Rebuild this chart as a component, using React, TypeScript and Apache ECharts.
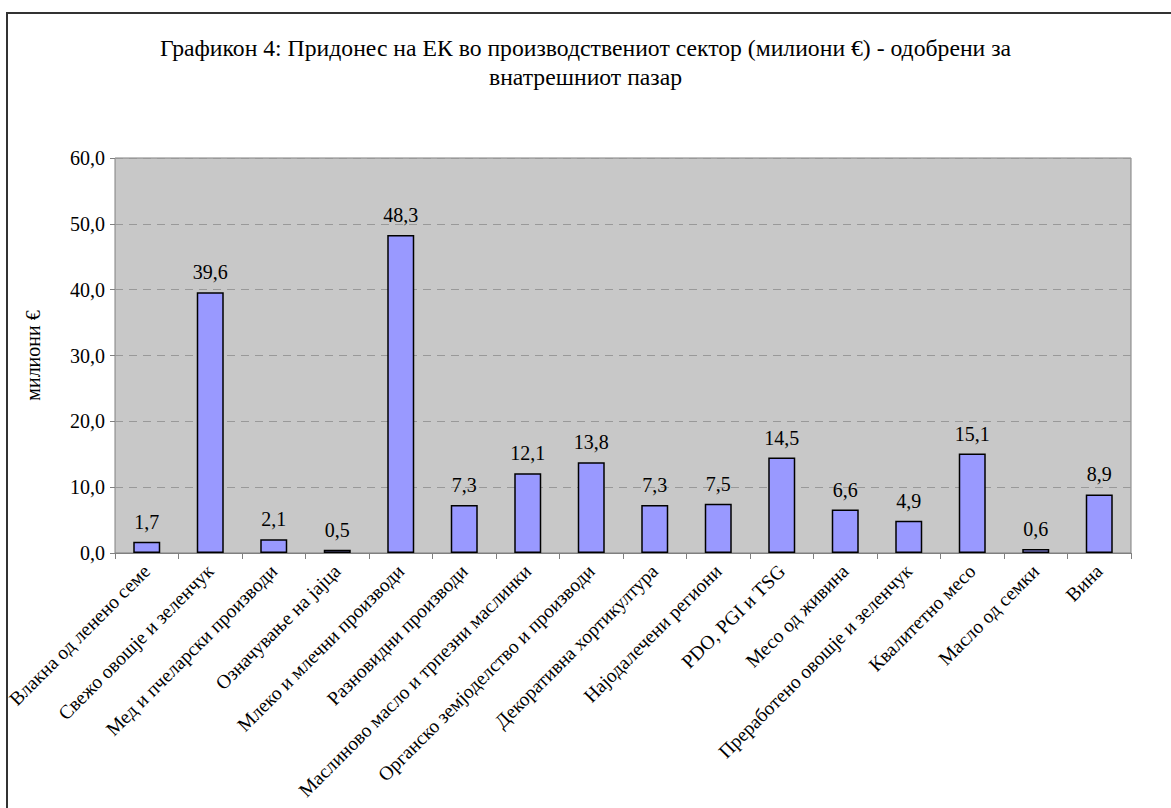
import React, { useEffect, useRef } from "react";
import * as echarts from "echarts";

const titleLines = [
  "Графикон 4: Придонес на ЕК во производствениот сектор (милиони €) - одобрени за",
  "внатрешниот пазар",
];
const yAxisName = "милиони €";
const categories = [
  "Влакна од ленено семе",
  "Свежо овошје и зеленчук",
  "Мед и пчеларски производи",
  "Означување на јајца",
  "Млеко и млечни производи",
  "Разновидни производи",
  "Маслиново масло и трпезни маслинки",
  "Органско земјоделство и производи",
  "Декоративна хортикултура",
  "Најодалечени региони",
  "PDO, PGI и TSG",
  "Месо од живина",
  "Преработено овошје и зеленчук",
  "Квалитетно месо",
  "Масло од семки",
  "Вина",
];
const values = [1.7, 39.6, 2.1, 0.5, 48.3, 7.3, 12.1, 13.8, 7.3, 7.5, 14.5, 6.6, 4.9, 15.1, 0.6, 8.9];

const FONT = "Liberation Serif";
const fmt = (v: number) => v.toFixed(1).replace(".", ",");

export default function App() {
  const ref = useRef<HTMLDivElement>(null);
  useEffect(() => {
    if (!ref.current) return;
    const chart = echarts.init(ref.current, null, { renderer: "svg" });
    chart.setOption({
      animation: false,
      backgroundColor: "#ffffff",
      title: {
        text: titleLines.join("\n"),
        left: "center",
        top: 28,
        textStyle: {
          fontFamily: FONT,
          fontSize: 23.7,
          fontWeight: "normal",
          color: "#000",
          lineHeight: 29,
        },
      },
      graphic: [
        {
          type: "rect",
          shape: { x: 7, y: 13, width: 1200, height: 850 },
          style: { fill: "none", stroke: "#333", lineWidth: 2 },
          silent: true,
          z: 100,
        },
      ],
      grid: {
        left: 115,
        top: 158,
        width: 1016,
        height: 395,
        show: true,
        backgroundColor: "#c8c8c8",
        borderColor: "#808080",
        borderWidth: 1,
      },
      xAxis: {
        type: "category",
        data: categories,
        axisLine: { show: true, lineStyle: { color: "#808080", width: 1 } },
        axisTick: { show: true, length: 6, lineStyle: { color: "#808080" } },
        axisLabel: {
          rotate: 45,
          interval: 0,
          margin: 15,
          fontFamily: FONT,
          fontSize: 19.5,
          color: "#000",
        },
      },
      yAxis: {
        type: "value",
        min: 0,
        max: 60,
        interval: 10,
        name: yAxisName,
        nameLocation: "middle",
        nameGap: 72,
        nameTextStyle: { fontFamily: FONT, fontSize: 20, color: "#000" },
        axisLine: { show: false },
        axisTick: { show: true, length: 5, lineStyle: { color: "#808080" } },
        axisLabel: {
          formatter: (v: number) => fmt(v),
          fontFamily: FONT,
          fontSize: 20,
          color: "#000",
          margin: 10,
        },
        splitLine: {
          show: true,
          lineStyle: { color: "#999999", type: [8, 6], width: 1 },
        },
      },
      series: [
        {
          type: "bar",
          data: values,
          barWidth: 27,
          itemStyle: { color: "#9999ff", borderColor: "#000", borderWidth: 1.5 },
          label: {
            show: true,
            position: "top",
            distance: 10,
            formatter: (p: any) => fmt(p.value),
            fontFamily: FONT,
            fontSize: 20,
            color: "#000",
          },
        },
      ],
    });
    return () => chart.dispose();
  }, []);
  return (
    <div
      ref={ref}
      style={{ position: "fixed", left: 0, top: 0, width: 1171, height: 808 }}
    />
  );
}
